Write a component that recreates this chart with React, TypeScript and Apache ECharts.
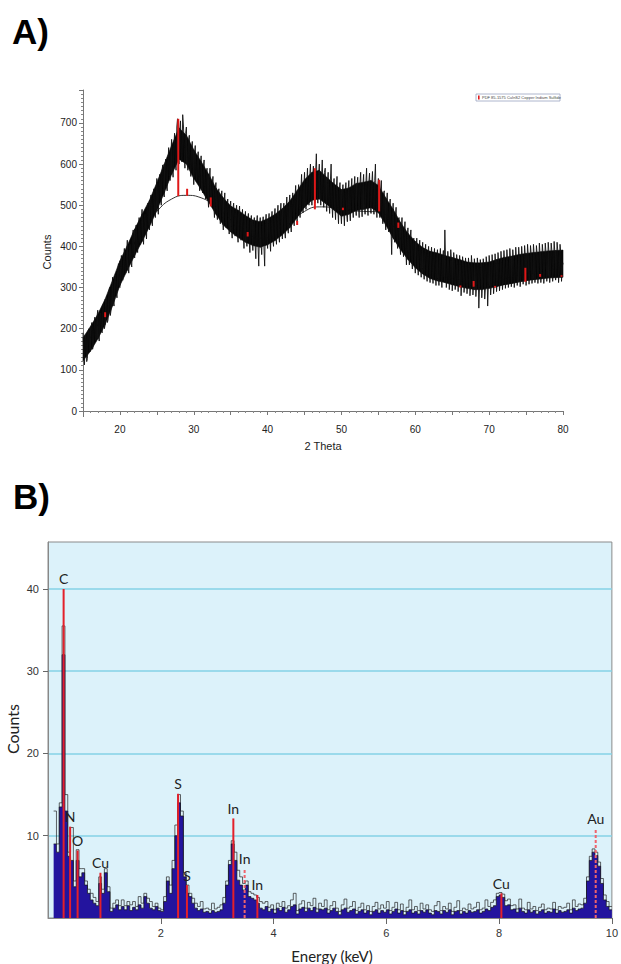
import React, { useEffect, useRef } from "react";
import * as echarts from "echarts";

// ---------- Panel A: XRD pattern ----------
const XRD_START = 15;
const XRD_STEP = 0.2;
// counts read at 15.0, 15.2, ... 80.0
const xrdCountsEven = [
  190, 112, 175, 128, 200, 150, 215, 160, 228, 175,
  245, 170, 238, 190, 262, 210, 278, 222, 300, 245,
  325, 255, 330, 275, 358, 300, 378, 318, 395, 335,
  415, 335, 405, 350, 440, 372, 452, 385, 470, 405,
  490, 405, 478, 418, 505, 440, 525, 450, 540, 470,
  565, 478, 575, 500, 598, 520, 612, 535, 640, 560,
  660, 568, 675, 585, 710, 600, 705, 605, 695, 590,
  690, 585, 670, 570, 655, 550, 645, 560, 630, 535,
  620, 530, 610, 515, 590, 495, 590, 505, 570, 470,
  555, 465, 540, 455, 535, 440, 530, 445, 515, 430,
  510, 420, 505, 425, 500, 410, 498, 415, 490, 395,
  485, 400, 480, 385, 475, 390, 470, 370, 475, 352,
  470, 380, 472, 352, 478, 395, 480, 388, 485, 400,
  492, 405, 500, 410, 505, 418, 505, 420, 520, 432,
  525, 435, 530, 450, 548, 460, 550, 470, 575, 482,
  580, 490, 590, 500, 600, 500, 595, 505, 625, 505,
  600, 500, 610, 495, 590, 485, 580, 480, 600, 470,
  565, 465, 570, 455, 555, 455, 550, 450, 555, 460,
  560, 462, 565, 470, 570, 475, 568, 470, 580, 472,
  575, 478, 590, 475, 578, 480, 582, 478, 600, 470,
  565, 470, 560, 455, 535, 440, 530, 435, 515, 380,
  505, 410, 495, 395, 470, 380, 470, 375, 460, 355,
  445, 355, 440, 345, 420, 335, 420, 330, 415, 325,
  410, 320, 405, 315, 400, 312, 398, 310, 395, 305,
  392, 305, 395, 300, 390, 440, 300, 388, 295, 392,
  292, 385, 295, 380, 290, 378, 280, 375, 288, 372,
  285, 372, 280, 378, 282, 370, 278, 372, 250, 368,
  275, 370, 272, 375, 255, 378, 282, 380, 285, 382,
  290, 385, 292, 388, 295, 390, 298, 392, 300, 395,
  302, 392, 300, 398, 305, 398, 302, 400, 308, 402,
  305, 405, 308, 402, 310, 405, 312, 402, 310, 408,
  312, 405, 310, 408, 315, 410, 312, 408, 315, 412,
  318, 410, 312, 405, 315, 360,
];
// counts read at 15.1, 15.3, ... 79.9
const xrdCountsOdd = [
  135, 185, 120, 195, 145, 205, 150, 198, 172, 230,
  180, 232, 195, 255, 200, 262, 215, 290, 232, 270,
  268, 318, 290, 340, 305, 352, 320, 365, 342, 380,
  350, 392, 362, 425, 378, 428, 395, 440, 410, 462,
  425, 470, 438, 492, 450, 505, 462, 515, 485, 530,
  505, 545, 520, 585, 540, 590, 548, 600, 570, 625,
  595, 640, 610, 690, 625, 680, 625, 720, 640, 675,
  615, 660, 600, 640, 590, 625, 580, 610, 570, 600,
  555, 595, 545, 580, 530, 565, 520, 555, 505, 540,
  490, 530, 485, 520, 470, 505, 460, 500, 470, 495,
  448, 490, 450, 482, 440, 475, 438, 470, 430, 465,
  420, 465, 415, 460, 425, 450, 410, 455, 405, 445,
  410, 450, 400, 455, 415, 455, 420, 462, 418, 470,
  425, 470, 430, 478, 440, 485, 440, 490, 455, 500,
  460, 502, 470, 515, 480, 525, 490, 535, 500, 545,
  510, 555, 520, 570, 535, 570, 530, 580, 540, 575,
  530, 570, 535, 580, 520, 555, 515, 560, 510, 545,
  500, 540, 495, 535, 485, 525, 490, 530, 480, 535,
  490, 535, 495, 540, 500, 545, 500, 550, 505, 548,
  505, 550, 500, 555, 510, 550, 505, 560, 500, 545,
  500, 540, 490, 530, 470, 505, 465, 500, 455, 475,
  440, 475, 430, 465, 410, 445, 405, 435, 395, 420,
  385, 420, 375, 410, 365, 395, 360, 390, 355, 385,
  350, 385, 340, 375, 345, 375, 340, 370, 335, 372,
  335, 368, 330, 372, 325, 368, 325, 362, 320, 365,
  322, 360, 318, 355, 320, 355, 315, 352, 310, 350,
  310, 348, 305, 350, 308, 345, 305, 350, 300, 348,
  305, 352, 300, 355, 308, 352, 310, 355, 312, 358,
  315, 358, 318, 360, 320, 362, 322, 365, 325, 368,
  325, 368, 328, 370, 330, 372, 330, 375, 332, 378,
  335, 378, 338, 380, 335, 380, 338, 382, 340, 378,
  340, 382, 342, 385, 340, 385, 342, 388, 345, 384,
  345, 388, 348, 385, 350,
];
// solid inner part of the noise band, read at every whole degree 15..80
const bandTheta = [15, 16, 17, 18, 19, 20, 21, 22, 23, 24, 25, 26, 27, 28, 29, 30, 31, 32, 33, 34, 35, 36, 37, 38, 39, 40, 41, 42, 43, 44, 45, 46, 47, 48, 49, 50, 51, 52, 53, 54, 55, 56, 57, 58, 59, 60, 61, 62, 63, 64, 65, 66, 67, 68, 69, 70, 71, 72, 73, 74, 75, 76, 77, 78, 79, 80];
const bandLow = [122, 145, 175, 210, 255, 305, 342, 378, 412, 448, 488, 530, 575, 612, 600, 565, 538, 508, 478, 452, 435, 422, 410, 402, 398, 404, 414, 428, 445, 470, 495, 512, 515, 502, 488, 473, 478, 487, 490, 494, 482, 452, 420, 392, 368, 348, 333, 322, 316, 312, 307, 302, 298, 295, 295, 298, 302, 307, 310, 314, 317, 319, 321, 323, 324, 325];
const bandHigh = [178, 205, 235, 272, 318, 365, 402, 442, 478, 512, 555, 600, 645, 688, 670, 635, 606, 576, 542, 518, 498, 488, 475, 464, 460, 467, 478, 492, 510, 536, 562, 580, 585, 568, 552, 538, 542, 553, 556, 560, 548, 518, 490, 458, 432, 412, 397, 388, 384, 378, 373, 368, 362, 360, 360, 362, 368, 373, 376, 380, 383, 385, 387, 389, 390, 391];
const bgTheta = [15, 17, 19, 21, 23, 25, 27, 29, 31, 33, 35, 37, 39, 41, 43, 45, 47, 49, 51, 53, 55, 57, 59, 61, 63, 65, 67, 69, 71, 73, 75, 77, 79, 80];
const bgCounts = [150, 210, 290, 370, 440, 485, 515, 524, 518, 496, 465, 435, 420, 425, 455, 485, 496, 494, 488, 485, 484, 450, 385, 345, 322, 310, 304, 302, 305, 310, 317, 324, 331, 334];
const refTheta = [18.0, 27.9, 29.1, 32.3, 37.3, 44.0, 46.4, 50.2, 55.1, 57.7, 66.1, 67.9, 70.8, 74.9, 76.9, 79.8];
const refBase = [228, 522, 523, 497, 424, 452, 490, 488, 485, 445, 300, 302, 300, 314, 326, 326];
const refTop = [240, 710, 540, 519, 435, 462, 590, 494, 562, 458, 305, 316, 304, 348, 333, 330];
const legendText = "PDF 85-1575 CuInS2 Copper Indium Sulfide";

// ---------- Panel B: EDS spectrum ----------
const EDS_START = 0.1;
const EDS_BIN = 0.05;
const edsFill = [
  9, 8, 13.5, 32, 13, 7.5, 7, 3.8, 7, 5,
  5.5, 4, 3, 2.2, 1.8, 1.5, 4.2, 3, 5.5, 3.2,
  0.8, 1.2, 1.6, 1.0, 1.4, 1.0, 1.5, 0.9, 1.3, 1.0,
  1.6, 1.2, 2.6, 1.8, 1.2, 1.0, 1.4, 0.9, 0.8, 2.0,
  4.5, 3.0, 6, 10, 14, 12.4, 5, 3, 2.6, 1.8,
  1.2, 0.9, 1.1, 0.7, 0.8, 0.6, 0.9, 0.7, 0.8, 1.0,
  1.8, 4.0, 6.5, 9.0, 7.0, 4.6, 4.0, 3.4, 4.0, 2.6,
  2.4, 2.2, 1.8, 1.2, 1.0, 1.4,
  0.8, 1.1, 0.6, 1.2, 0.9, 1.3, 0.7, 1.0, 1.4, 1.6,
  0.5, 1.1, 1.3, 0.8, 1.2, 0.9, 1.3, 0.7, 1.1, 1.0,
  1.2, 0.6, 0.9, 1.2, 0.8, 0.4, 1.0, 1.2, 0.7, 0.9,
  1.1, 0.5, 0.8, 1.0, 0.6, 0.9, 0.4, 0.8, 1.0, 0.6,
  0.9, 0.7, 1.0, 0.5, 0.8, 1.1, 0.6, 0.9, 0.4, 0.8,
  1.0, 0.6, 0.8, 0.5, 0.9, 0.7, 1.0, 0.6, 0.4, 0.9,
  0.8, 0.5, 0.9, 0.7, 1.0, 0.4, 0.8, 0.9, 0.5, 0.8,
  0.6, 0.9, 0.7, 0.8, 1.0, 0.6, 0.8, 1.1, 0.9, 1.3,
  1.5, 2.6, 2.8, 2.5, 1.5, 1.6, 1.0,
  1.1, 0.7, 1.2, 0.8, 0.6, 1.0, 0.7, 0.9, 0.5, 0.8,
  1.0, 0.6, 0.8, 0.7, 1.1, 0.6, 0.9, 0.7, 0.8, 1.0,
  0.6, 1.2, 0.9, 1.1,
  1.2, 1.8, 4.5, 7, 8.0, 7.6, 6.3, 4.2, 2.2, 1.4, 1.0,
];
const edsTop = [
  13, 9, 14, 35.5, 15, 8, 11, 4.5, 8.3, 6,
  6, 4.5, 3.5, 3, 2.5, 2, 5, 3.5, 6, 3.8,
  1.2, 1.8, 2.2, 1.5, 2.2, 1.5, 2, 1.6, 2, 1.4,
  2.6, 1.8, 3, 2.4, 2, 1.4, 1.8, 1.2, 1.0, 2.6,
  5, 4, 7, 11.3, 15, 13, 5.5, 4, 3, 2.4,
  1.8, 1.4, 2.0, 1.1, 1.2, 1.0, 1.8, 1.1, 1.3, 1.6,
  2.5, 4.5, 7, 9.4, 8, 5.8, 5, 4.2, 4.5, 3.2,
  3.0, 2.8, 2.5, 2.0, 1.8, 2.0,
  1.3, 1.6, 1.0, 1.8, 1.4, 2.0, 1.2, 1.5, 2.2, 3.0,
  0.9, 1.7, 2.1, 1.2, 1.9, 1.5, 2.4, 1.1, 1.8, 1.4,
  2.2, 1.0, 1.5, 2.0, 1.2, 0.8, 1.6, 2.3, 1.2, 1.4,
  2.0, 0.9, 1.3, 1.8, 1.0, 1.5, 0.8, 1.4, 1.9, 1.1,
  1.6, 1.2, 2.0, 0.9, 1.3, 1.9, 1.0, 1.7, 0.8, 1.3,
  2.2, 1.0, 1.4, 0.9, 1.8, 1.1, 1.6, 1.0, 0.8, 1.5,
  2.0, 0.9, 1.4, 1.1, 1.8, 0.8, 1.3, 2.1, 0.9, 1.2,
  1.0, 1.7, 1.1, 1.3, 1.9, 1.0, 1.2, 2.2, 1.4, 1.9,
  2.2, 3.0, 3.1, 2.9, 2.1, 2.3, 1.5,
  1.6, 1.1, 2.3, 1.2, 1.0, 1.9, 1.1, 1.4, 0.9, 1.3,
  1.7, 1.0, 1.2, 1.1, 1.9, 1.0, 1.4, 1.2, 1.3, 1.8,
  1.0, 2.2, 1.4, 1.7,
  1.6, 2.4, 5, 7.5, 8.4, 8, 6.8, 4.8, 2.8, 2, 1.4,
];
const peakNames = ["C", "N", "O", "Cu", "S", "S", "In", "In", "In", "Cu", "Au"];
const peakEnergy = [0.277, 0.392, 0.525, 0.93, 2.307, 2.464, 3.287, 3.487, 3.713, 8.04, 9.713];
const peakHeight = [40, 11.1, 8.2, 5.5, 15.1, 4.0, 12.1, 6.0, 2.8, 3.0, 10.9];
const peakDashed = [false, false, false, false, false, false, false, true, false, false, true];
const edsGridValues = [10, 20, 30, 40];

const ARIAL = '"Liberation Sans", Arial, sans-serif';
const LATO = 'Lato, "Open Sans", sans-serif';

function buildOption() {
  const xrdData: number[][] = [];
  xrdCountsEven.forEach((c, i) => {
    const t = XRD_START + i * XRD_STEP;
    xrdData.push([+t.toFixed(2), c]);
    if (i < xrdCountsOdd.length) xrdData.push([+(t + XRD_STEP / 2).toFixed(2), xrdCountsOdd[i]]);
  });
  // band segments: [t0, low0, high0, t1, low1, high1]
  const bandSegs: number[][] = [];
  for (let i = 0; i < bandTheta.length - 1; i++) {
    bandSegs.push([bandTheta[i], bandLow[i], bandHigh[i], bandTheta[i + 1], bandLow[i + 1], bandHigh[i + 1]]);
  }
  const bgData = bgTheta.map((t, i) => [t, bgCounts[i]]);
  const refData = refTheta.map((t, i) => [t, refBase[i], refTop[i]]);
  const edsFillData = edsFill.map((v, i) => [+(EDS_START + i * EDS_BIN).toFixed(3), v]);
  edsFillData.push([10, edsFill[edsFill.length - 1]]);
  const edsTopData = edsTop.map((v, i) => [+(EDS_START + i * EDS_BIN).toFixed(3), v]);
  edsTopData.push([10, edsTop[edsTop.length - 1]]);
  const peakData = peakEnergy.map((e, i) => [e, peakHeight[i], i]);

  return {
    animation: false,
    backgroundColor: "#ffffff",
    grid: [
      { left: 83, right: 58, top: 90, bottom: 553 },
      {
        left: 48, right: 6, top: 542, bottom: 46, show: true,
        backgroundColor: "#dcf2fa", borderColor: "#8a8a8a", borderWidth: 1,
      },
    ],
    xAxis: [
      {
        gridIndex: 0, type: "value", min: 15, max: 80, interval: 5, offset: 6,
        axisLine: { show: true, lineStyle: { color: "#777", width: 1 } },
        axisTick: { show: true, length: 4, lineStyle: { color: "#777" } },
        minorTick: { show: true, splitNumber: 5, length: 2, lineStyle: { color: "#888" } },
        axisLabel: {
          formatter: (v: number) => (v % 10 === 0 ? String(v) : ""),
          fontSize: 10, color: "#222", fontFamily: ARIAL, margin: 7,
        },
        splitLine: { show: false },
      },
      {
        gridIndex: 1, type: "value", min: 0, max: 10, interval: 2,
        axisLine: { show: true, lineStyle: { color: "#888" } },
        axisTick: { show: true, length: 6, lineStyle: { color: "#666" } },
        axisLabel: { showMinLabel: false, fontSize: 11, color: "#333", fontFamily: ARIAL, margin: 9 },
        splitLine: { show: false },
      },
    ],
    yAxis: [
      {
        gridIndex: 0, type: "value", min: 0, max: 780, interval: 100,
        axisLine: { show: true, lineStyle: { color: "#777" } },
        axisTick: { show: true, length: 4, lineStyle: { color: "#777" } },
        minorTick: { show: true, splitNumber: 10, length: 2, lineStyle: { color: "#888" } },
        axisLabel: { showMaxLabel: false, fontSize: 10, color: "#222", fontFamily: ARIAL, margin: 6 },
        splitLine: { show: false },
      },
      {
        gridIndex: 1, type: "value", min: 0, max: 45.7, interval: 10,
        axisLine: { show: true, lineStyle: { color: "#888" } },
        axisTick: { show: true, length: 5, customValues: edsGridValues, lineStyle: { color: "#666" } },
        axisLabel: { customValues: edsGridValues, fontSize: 11, color: "#333", fontFamily: ARIAL, margin: 9 },
        splitLine: { show: true, lineStyle: { color: "#84d2e6", width: 1.5 } },
      },
    ],
    series: [
      {
        type: "line", xAxisIndex: 0, yAxisIndex: 0, data: bgData, smooth: true,
        showSymbol: false, silent: true, z: 1,
        lineStyle: { color: "#333", width: 1 },
      },
      {
        type: "custom", xAxisIndex: 0, yAxisIndex: 0, data: bandSegs, silent: true, z: 2,
        encode: { x: [0, 3], y: [1, 2, 4, 5] },
        renderItem: (_p: any, api: any) => {
          const p1 = api.coord([api.value(0), api.value(1)]);
          const p2 = api.coord([api.value(3), api.value(4)]);
          const p3 = api.coord([api.value(3), api.value(5)]);
          const p4 = api.coord([api.value(0), api.value(2)]);
          return {
            type: "polygon",
            shape: { points: [p1, p2, p3, p4] },
            style: { fill: "#060606", stroke: "#060606", lineWidth: 0.6 },
          };
        },
      },
      {
        type: "line", xAxisIndex: 0, yAxisIndex: 0, data: xrdData,
        showSymbol: false, silent: true, z: 3,
        lineStyle: { color: "#111", width: 0.9, join: "bevel" },
      },
      {
        type: "custom", xAxisIndex: 0, yAxisIndex: 0, data: refData, silent: true, z: 4,
        encode: { x: 0, y: [1, 2] },
        renderItem: (_p: any, api: any) => {
          const a = api.coord([api.value(0), api.value(1)]);
          const b = api.coord([api.value(0), api.value(2)]);
          return {
            type: "line",
            shape: { x1: a[0], y1: a[1], x2: b[0], y2: b[1] },
            style: { stroke: "#e01818", lineWidth: 2 },
          };
        },
      },
      {
        type: "line", xAxisIndex: 1, yAxisIndex: 1, data: edsTopData, step: "end",
        showSymbol: false, silent: true, z: 1,
        lineStyle: { color: "#222", width: 0.7 },
      },
      {
        type: "line", xAxisIndex: 1, yAxisIndex: 1, data: edsFillData, step: "end",
        showSymbol: false, silent: true, z: 2,
        lineStyle: { color: "#111", width: 0.7 },
        areaStyle: { color: "#23149e", opacity: 1 },
      },
      {
        type: "custom", xAxisIndex: 1, yAxisIndex: 1, data: peakData, silent: true, z: 5,
        encode: { x: 0, y: 1 },
        renderItem: (_p: any, api: any) => {
          const idx = api.value(2);
          const a = api.coord([api.value(0), 0]);
          const b = api.coord([api.value(0), api.value(1)]);
          const dashed = peakDashed[idx];
          return {
            type: "group",
            children: [
              {
                type: "line",
                shape: { x1: a[0], y1: a[1], x2: b[0], y2: b[1] },
                style: {
                  stroke: dashed ? "#f0646c" : "#e3202a",
                  lineWidth: 2,
                  lineDash: dashed ? [3, 2] : null,
                },
              },
              {
                type: "text",
                x: b[0], y: b[1] - 3,
                style: {
                  text: peakNames[idx], fontSize: 14, fontFamily: LATO,
                  fill: "#222", align: "center", verticalAlign: "bottom",
                },
              },
            ],
          };
        },
      },
    ],
    graphic: [
      {
        type: "text", x: 12, y: 31,
        style: { text: "A)", fontSize: 35, fontWeight: "bold", fontFamily: ARIAL, fill: "#000", align: "left", verticalAlign: "middle" },
      },
      {
        type: "text", x: 13, y: 496,
        style: { text: "B)", fontSize: 35, fontWeight: "bold", fontFamily: ARIAL, fill: "#000", align: "left", verticalAlign: "middle" },
      },
      {
        type: "line", shape: { x1: 83.5, y1: 411, x2: 83.5, y2: 417 },
        style: { stroke: "#777", lineWidth: 1 },
      },
      {
        type: "text", x: 47, y: 252, rotation: Math.PI / 2,
        style: { text: "Counts", fontSize: 11, fontFamily: ARIAL, fill: "#222", align: "center", verticalAlign: "middle" },
      },
      {
        type: "text", x: 323, y: 446,
        style: { text: "2 Theta", fontSize: 11, fontFamily: ARIAL, fill: "#222", align: "center", verticalAlign: "middle" },
      },
      {
        type: "rect", shape: { x: 476, y: 94, width: 84, height: 7 },
        style: { fill: "#fff", stroke: "#9aa3c0", lineWidth: 0.8 },
      },
      {
        type: "rect", shape: { x: 478, y: 95.5, width: 1.6, height: 4 },
        style: { fill: "#e01818" },
      },
      {
        type: "text", x: 482, y: 97.6,
        style: { text: legendText, fontSize: 4, fontFamily: ARIAL, fill: "#444", align: "left", verticalAlign: "middle" },
      },
      {
        type: "text", x: 12, y: 729, rotation: Math.PI / 2,
        style: { text: "Counts", fontSize: 16, fontFamily: LATO, fill: "#222", align: "center", verticalAlign: "middle" },
      },
      {
        type: "text", x: 332, y: 956,
        style: { text: "Energy (keV)", fontSize: 15, fontFamily: LATO, fill: "#222", align: "center", verticalAlign: "middle" },
      },
    ],
  };
}

export default function App() {
  const ref = useRef<HTMLDivElement>(null);
  useEffect(() => {
    if (!ref.current) return;
    const chart = echarts.init(ref.current, null, { renderer: "svg" });
    chart.setOption(buildOption() as any);
    return () => chart.dispose();
  }, []);
  return (
    <div
      ref={ref}
      style={{ position: "absolute", left: 0, top: 0, width: 621, height: 964, background: "#fff" }}
    />
  );
}
